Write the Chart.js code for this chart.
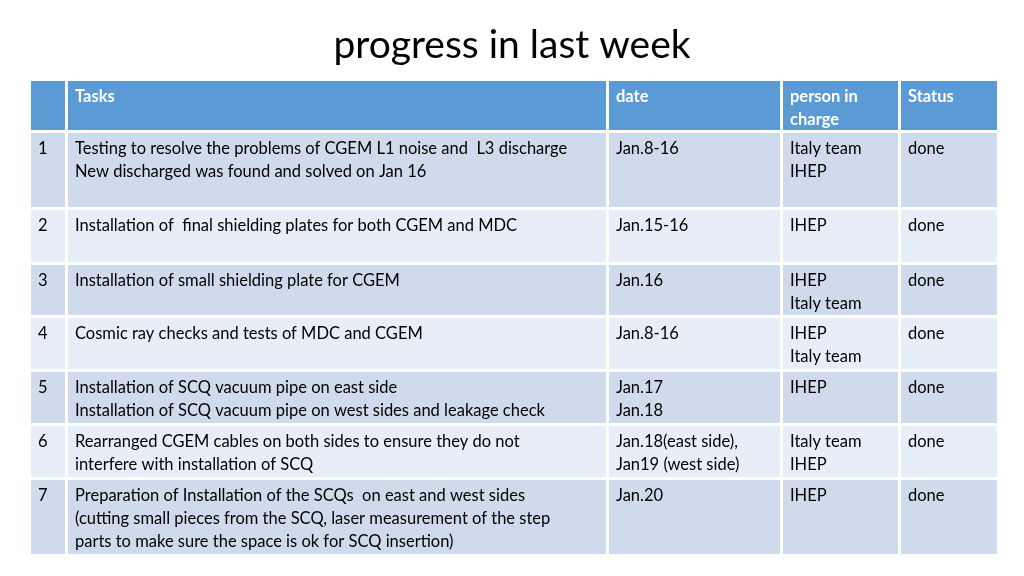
<!DOCTYPE html>
<html><head><meta charset="utf-8">
<script src="https://cdn.jsdelivr.net/npm/chart.js@4"></script>
<style>html,body{margin:0;padding:0;background:#fff}#w{width:1024px;height:576px}</style>
</head><body><div id="w"><canvas id="c"></canvas></div>
<script>
const title = "progress in last week";
const headers = ["", "Tasks", "date", "person in\ncharge", "Status"];
const colEdges = [30, 67, 608, 782, 900, 999];
const rowEdges = [80, 132, 209, 264, 317, 371, 425, 479, 556];
const nums = ["1","2","3","4","5","6","7"];
const tasks = [
 "Testing to resolve the problems of CGEM L1 noise and  L3 discharge\nNew discharged was found and solved on Jan 16",
 "Installation of  final shielding plates for both CGEM and MDC",
 "Installation of small shielding plate for CGEM",
 "Cosmic ray checks and tests of MDC and CGEM",
 "Installation of SCQ vacuum pipe on east side\nInstallation of SCQ vacuum pipe on west sides and leakage check",
 "Rearranged CGEM cables on both sides to ensure they do not\ninterfere with installation of SCQ",
 "Preparation of Installation of the SCQs  on east and west sides\n(cutting small pieces from the SCQ, laser measurement of the step\nparts to make sure the space is ok for SCQ insertion)"
];
const dates = ["Jan.8-16","Jan.15-16","Jan.16","Jan.8-16","Jan.17\nJan.18","Jan.18(east side),\nJan19 (west side)","Jan.20"];
const persons = ["Italy team\nIHEP","IHEP","IHEP\nItaly team","IHEP\nItaly team","IHEP","Italy team\nIHEP","IHEP"];
const status = ["done","done","done","done","done","done","done"];

const tablePlugin = {
 id:'table',
 beforeDraw(chart){
  const ctx=chart.ctx, X=chart.scales.x, Y=chart.scales.y;
  ctx.save();
  ctx.fillStyle='#fff';ctx.fillRect(0,0,chart.width,chart.height);
  ctx.fillStyle='#000';ctx.font='39px Lato';ctx.textAlign='center';ctx.textBaseline='middle';
  ctx.fillText(title,X.getPixelForValue(512),Y.getPixelForValue(45));
  const rows=[headers];
  for(let i=0;i<nums.length;i++) rows.push([nums[i],tasks[i],dates[i],persons[i],status[i]]);
  ctx.textAlign='left';ctx.textBaseline='alphabetic';
  rows.forEach((r,ri)=>{
   const y0=Y.getPixelForValue(rowEdges[ri]), y1=Y.getPixelForValue(rowEdges[ri+1]);
   r.forEach((txt,ci)=>{
    const x0=X.getPixelForValue(colEdges[ci]), x1=X.getPixelForValue(colEdges[ci+1]);
    ctx.fillStyle = ri===0 ? '#5b9bd5' : (ri%2===1 ? '#cfdbec' : '#e8eef7');
    ctx.fillRect(x0+1,y0+1,x1-x0-3,y1-y0-3);
    ctx.fillStyle = ri===0 ? '#fff' : '#000';
    ctx.font = ri===0 ? 'bold 16.5px Lato' : '16.5px Lato';
    txt.split('\n').forEach((ln,li)=>ctx.fillText(ln,x0+8,y0+22+li*23));
   });
  });
  ctx.restore();
 }
};
new Chart(document.getElementById('c'),{
 type:'scatter',
 data:{datasets:[{data:[]}]},
 options:{responsive:true,maintainAspectRatio:false,animation:false,
  layout:{padding:0},
  plugins:{legend:{display:false},tooltip:{enabled:false}},
  scales:{x:{type:'linear',min:0,max:1024,offset:false,display:false},y:{type:'linear',min:0,max:576,reverse:true,offset:false,display:false}}},
 plugins:[tablePlugin]
});
</script></body></html>
